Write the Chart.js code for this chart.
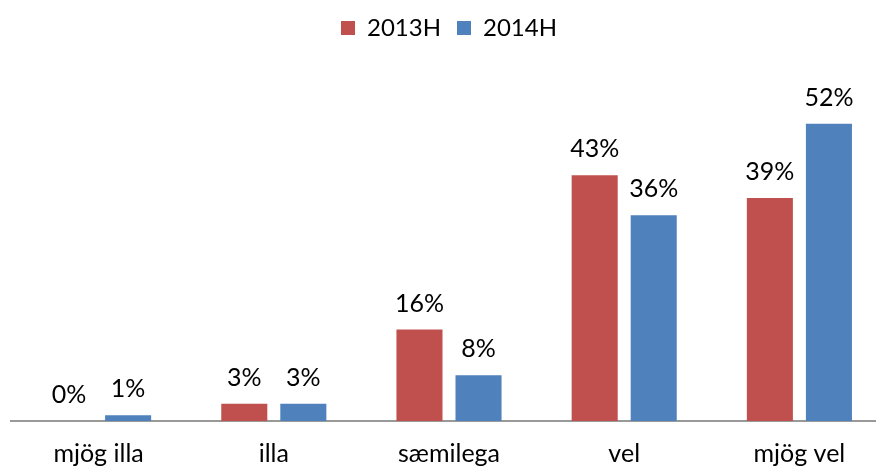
<!DOCTYPE html>
<html>
<head>
<meta charset="utf-8">
<script src="https://cdn.jsdelivr.net/npm/chart.js@4.4.0/dist/chart.umd.min.js"></script>
<style>
  html, body { margin: 0; padding: 0; background: #fff; overflow: hidden; }
  #wrap { width: 887px; height: 468px; }
</style>
</head>
<body>
<div id="wrap"><canvas id="chart"></canvas></div>
<script>
const categories = ['mjög illa', 'illa', 'sæmilega', 'vel', 'mjög vel'];
const values2013 = [0, 3, 16, 43, 39];
const values2014 = [1, 3, 8, 36, 52];
const seriesNames = ['2013H', '2014H'];

const FONT = 'Lato, "Open Sans", sans-serif';

// draws "43%" above each bar
const valueLabels = {
    id: 'valueLabels',
    afterDatasetsDraw(chart) {
        const ctx = chart.ctx;
        ctx.save();
        ctx.font = '25px ' + FONT;
        ctx.fillStyle = '#000';
        ctx.textAlign = 'center';
        ctx.textBaseline = 'alphabetic';
        chart.data.datasets.forEach((ds, i) => {
            chart.getDatasetMeta(i).data.forEach((bar, j) => {
                ctx.fillText(ds.data[j] + '%', bar.x, bar.y - 18);
            });
        });
        ctx.restore();
    }
};

// more room under the legend
const legendGap = {
    id: 'legendGap',
    beforeInit(chart) {
        const fit = chart.legend.fit;
        chart.legend.fit = function () {
            fit.call(this);
            this.height += 28;
        };
    }
};

new Chart(document.getElementById('chart'), {
    type: 'bar',
    data: {
        labels: categories,
        datasets: [{
            label: seriesNames[0],
            data: values2013,
            backgroundColor: '#C0504D'
        }, {
            label: seriesNames[1],
            data: values2014,
            backgroundColor: '#4F81BD'
        }]
    },
    options: {
        responsive: true,
        maintainAspectRatio: false,
        animation: false,
        categoryPercentage: 0.674,
        barPercentage: 0.78,
        layout: { padding: { left: 11, right: 0, top: 0, bottom: 0 } },
        plugins: {
            legend: {
                position: 'top',
                labels: {
                    boxWidth: 14,
                    boxHeight: 14,
                    padding: 16,
                    color: '#000',
                    font: { family: FONT, size: 24 }
                }
            },
            tooltip: { enabled: false }
        },
        scales: {
            x: {
                grid: { display: false, drawTicks: false },
                border: { display: true, color: '#999', width: 2 },
                ticks: {
                    padding: 18,
                    color: '#000',
                    font: { family: FONT, size: 25 }
                },
                afterFit(scale) { scale.height = 47; }
            },
            y: {
                display: false,
                min: 0,
                max: 60
            }
        }
    },
    plugins: [valueLabels, legendGap]
});
</script>
</body>
</html>
